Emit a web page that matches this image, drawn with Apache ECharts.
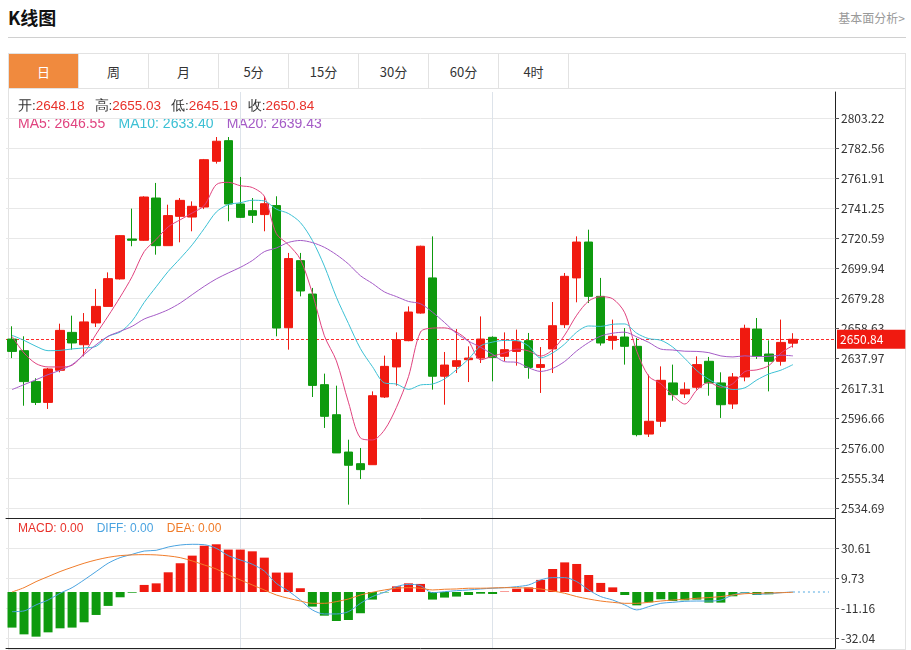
<!DOCTYPE html>
<html><head><meta charset="utf-8">
<script src="https://cdn.jsdelivr.net/npm/echarts@6/dist/echarts.min.js"></script>
<style>
html,body{margin:0;padding:0;background:#fff;font-family:"Microsoft YaHei","Noto Sans CJK SC",sans-serif;}
#hdr{position:absolute;left:8px;top:4px;font-size:18px;font-weight:bold;color:#111;}
#lnk{position:absolute;right:6px;top:9px;font-size:12px;color:#999;}
#hr{position:absolute;left:8px;top:37px;width:898px;height:1px;background:#d0d0d0;}
#tabs{position:absolute;left:8px;top:53px;width:898px;height:35px;border:1px solid #e2e2e2;border-bottom:none;box-sizing:border-box;display:flex;}
.tab{width:70px;height:35px;line-height:35px;text-align:center;font-size:13px;color:#333;border-right:1px solid #e2e2e2;box-sizing:border-box;}
.tab.on{background:#f08a3e;color:#fff;}
#frame{position:absolute;left:8px;top:88px;width:898px;height:562px;border:1px solid #e2e2e2;box-sizing:border-box;}
#c{position:absolute;left:0;top:0;width:911px;height:650px;}
</style></head><body>
<div id="hdr">K线图</div><div id="lnk">基本面分析&gt;</div><div id="hr"></div>
<div id="tabs"></div><div id="frame"></div>
<div id="c"></div>
<script>
const tabs=["日","周","月","5分","15分","30分","60分","4时"];
const openV=[2651.0,2643.0,2621.7,2607.4,2629.5,2655.6,2647.1,2662.1,2673.5,2692.4,2719.9,2719.0,2748.1,2715.3,2735.5,2735.0,2741.9,2773.4,2787.6,2744.0,2739.4,2736.7,2742.9,2658.8,2705.0,2682.0,2619.6,2598.9,2573.2,2565.2,2564.5,2611.1,2631.8,2649.9,2668.9,2693.1,2625.4,2632.2,2636.8,2637.9,2652.2,2639.1,2642.5,2649.9,2631.5,2644.2,2660.9,2693.1,2717.8,2680.4,2650.1,2652.4,2646.0,2585.6,2594.4,2620.8,2613.2,2617.8,2635.7,2620.8,2606.3,2624.9,2657.9,2640.7,2635.7,2648.18];
const closeV=[2642.5,2621.7,2607.4,2630.4,2657.0,2648.3,2662.8,2673.5,2692.6,2722.2,2719.0,2748.8,2715.3,2736.0,2746.5,2742.4,2774.5,2787.2,2744.0,2734.8,2736.2,2744.2,2658.6,2706.4,2684.1,2619.1,2597.8,2572.6,2564.1,2561.1,2612.0,2632.2,2650.6,2669.6,2714.9,2625.4,2633.1,2636.1,2637.9,2651.0,2638.4,2643.7,2649.4,2631.5,2633.4,2660.2,2694.2,2717.8,2680.4,2648.3,2652.9,2646.0,2585.2,2594.4,2622.6,2612.7,2616.4,2633.4,2620.8,2605.8,2624.9,2658.4,2639.1,2635.7,2648.7,2650.84];
const lowV=[2637.9,2605.1,2605.6,2602.9,2628.1,2643.7,2639.1,2659.3,2673.5,2692.0,2714.9,2718.7,2709.1,2715.3,2717.6,2725.2,2740.5,2771.8,2732.1,2734.4,2730.9,2725.2,2652.9,2643.7,2680.4,2611.1,2589.8,2572.6,2537.0,2554.6,2564.5,2610.4,2618.9,2649.5,2668.5,2616.2,2605.8,2627.6,2621.4,2634.5,2621.9,2635.7,2632.7,2623.7,2613.9,2627.6,2658.6,2676.3,2675.8,2646.5,2643.7,2633.4,2584.0,2583.6,2590.5,2608.6,2610.4,2616.2,2612.0,2596.7,2602.9,2621.9,2637.3,2615.0,2632.7,2645.19];
const highV=[2659.8,2652.9,2624.0,2631.1,2661.6,2667.1,2668.9,2685.5,2696.9,2722.6,2740.8,2749.3,2758.5,2743.5,2748.1,2745.8,2775.0,2790.1,2790.1,2762.6,2748.1,2749.3,2749.3,2710.3,2710.3,2686.2,2627.2,2618.9,2581.7,2576.0,2615.0,2639.6,2655.6,2673.5,2715.3,2721.7,2642.1,2657.9,2646.0,2666.6,2652.9,2655.6,2657.5,2655.2,2645.5,2676.5,2696.5,2721.7,2726.3,2693.1,2664.4,2658.6,2651.7,2626.5,2632.2,2633.4,2621.2,2639.1,2638.7,2628.1,2627.6,2660.9,2665.5,2650.1,2664.4,2655.03];
// MA values before a full window is available
const ma5Lead=[2652.9,2641.4,2634.1,2631.8];
const ma10Lead=[2653.6,2650.1,2646.0,2643.0,2643.2,2644.2,2644.9,2646.0,2652.9];
const ma20Lead=[2616.2,2619.6,2623.0,2626.5,2629.5,2633.4,2640.3,2647.1,2652.9,2656.3,2659.8,2664.8,2667.8,2671.2,2675.8,2681.6,2687.3,2692.4,2696.5];
const macdV=[-24.8,-29.5,-31.1,-28.1,-25.3,-24.8,-21.1,-16.0,-9.7,-3.7,-0.5,4.9,6.0,13.7,20.0,25.3,32.2,33.2,29.5,29.5,28.3,23.9,13.5,13.5,2.6,-10.2,-16.5,-20.2,-19.5,-14.8,-5.3,-0.3,3.9,6.0,5.6,-5.3,-3.9,-3.2,-2.1,-1.2,-1.4,0.3,2.3,3.2,8.4,16.0,20.6,19.5,11.8,6.3,3.2,-2.1,-9.3,-7.2,-5.1,-6.3,-5.8,-5.3,-7.4,-7.4,-3.0,-0.5,-2.1,-1.6,-0.3,0];
const diffV=[-13.7,-13.2,-9.0,-5.6,-0.9,3.0,8.4,14.2,20.0,23.9,26.2,28.5,29.0,31.3,32.7,33.2,32.9,30.4,25.3,22.3,19.3,14.6,6.0,0.7,-5.6,-12.5,-15.3,-15.3,-13.7,-7.9,-3.2,-0.2,3.7,5.3,4.4,-0.5,0.2,0.9,1.4,2.1,2.6,3.0,3.7,4.9,8.4,10.0,10.0,7.2,1.4,-3.2,-5.6,-9.0,-12.5,-10.2,-7.9,-7.2,-6.5,-6.3,-6.3,-5.6,-2.1,-0.5,-1.6,-1.2,-0.5,0];
const deaV=[0,3.0,7.2,10.7,14.2,17.2,20.0,22.3,24.1,25.3,25.8,26.0,25.8,25.1,23.9,21.6,18.8,16.0,11.8,8.4,4.9,1.4,-2.1,-4.4,-6.3,-7.9,-7.9,-6.7,-4.9,-2.1,-0.2,1.4,2.6,3.0,2.6,1.4,1.9,2.1,2.6,2.6,2.8,3.0,3.0,2.6,2.1,0.7,-0.9,-3.2,-4.9,-6.3,-7.2,-7.9,-7.9,-7.2,-6.3,-5.6,-5.1,-4.4,-3.9,-3.2,-2.1,-1.2,-0.9,-0.7,-0.5,-0.2];
const priceTicks=[2803.22,2782.56,2761.91,2741.25,2720.59,2699.94,2679.28,2658.63,2637.97,2617.31,2596.66,2576.00,2555.34,2534.69];
const macdTicks=[30.61,9.73,-11.16,-32.04];
const slots=69;
const categories=Array.from({length:slots},(_,i)=>String(i+1));

document.getElementById('tabs').innerHTML=tabs.map((t,i)=>`<div class="tab${i===0?' on':''}">${t}</div>`).join('');

const RED='#f01a10',GREEN='#0e9a0e';
function ma(n,lead){return closeV.map((c,i)=>{if(i<n-1)return lead[i];let s=0;for(let k=i-n+1;k<=i;k++)s+=closeV[k];return +(s/n).toFixed(2);});}
const ma5=ma(5,ma5Lead),ma10=ma(10,ma10Lead),ma20=ma(20,ma20Lead);
const kdata=openV.map((o,i)=>[o,closeV[i],lowV[i],highV[i]]);
const last=kdata.length-1;
const gridLine={color:'#e8e8e8',type:'solid',width:1};
const hLines=(ticks)=>ticks.map(v=>({yAxis:v}));
const chart=echarts.init(document.getElementById('c'));
const f=(v)=>v.toFixed(2);
chart.setOption({
  animation:false,
  textStyle:{fontFamily:'"Microsoft YaHei","Noto Sans CJK SC",sans-serif'},
  grid:[{left:6,right:76,top:92,height:426},{left:6,right:76,top:519,height:129}],
  xAxis:[
    {type:'category',data:categories,gridIndex:0,boundaryGap:true,axisLine:{show:true,lineStyle:{color:'#222'}},axisTick:{show:false},axisLabel:{show:false},splitLine:{show:false}},
    {type:'category',data:categories,gridIndex:1,boundaryGap:true,axisLine:{show:true,onZero:false,lineStyle:{color:'#222'}},axisTick:{show:false},axisLabel:{show:false},splitLine:{show:false}}
  ],
  yAxis:[
    {type:'value',gridIndex:0,position:'right',min:2527.8,max:2821.1,axisLine:{show:true,lineStyle:{color:'#222'}},
     axisTick:{show:true,length:4,customValues:priceTicks,lineStyle:{color:'#555'}},
     axisLabel:{customValues:priceTicks,formatter:v=>f(v),color:'#333',fontSize:12,margin:6},splitLine:{show:false}},
    {type:'value',gridIndex:1,position:'right',min:-39.0,max:50.8,axisLine:{show:true,lineStyle:{color:'#222'}},
     axisTick:{show:true,length:4,customValues:macdTicks,lineStyle:{color:'#555'}},
     axisLabel:{customValues:macdTicks,formatter:v=>f(v),color:'#333',fontSize:12,margin:6},splitLine:{show:false}}
  ],
  graphic:[
    {type:'text',left:18,top:99,style:{rich:{k:{fill:'#333',fontSize:13.5},v:{fill:'#e8312a',fontSize:13.5}},
      text:`{k|开:}{v|${f(openV[last])}}   {k|高:}{v|${f(highV[last])}}   {k|低:}{v|${f(lowV[last])}}   {k|收:}{v|${f(closeV[last])}}`}},
    {type:'text',left:18,top:117,style:{rich:{a:{fill:'#e0437f',fontSize:14},b:{fill:'#3cc0d4',fontSize:14},c:{fill:'#a45bc6',fontSize:14}},
      text:`{a|MA5: ${f(ma5[last])}}    {b|MA10: ${f(ma10[last])}}    {c|MA20: ${f(ma20[last])}}`}},
    {type:'text',left:18,top:523,style:{rich:{a:{fill:'#e8312a',fontSize:12},b:{fill:'#4aa3e0',fontSize:12},c:{fill:'#f07c2a',fontSize:12}},
      text:`{a|MACD: 0.00}    {b|DIFF: 0.00}    {c|DEA: 0.00}`}}
  ],
  series:[
    {type:'candlestick',xAxisIndex:0,yAxisIndex:0,data:kdata,barWidth:9,
     itemStyle:{color:RED,color0:GREEN,borderColor:RED,borderColor0:GREEN,borderWidth:1},
     markLine:{silent:true,symbol:'none',animation:false,z:1,
       data:[...hLines(priceTicks).map(d=>({...d,lineStyle:gridLine,label:{show:false}})),
             {xAxis:19,lineStyle:{color:'#dde3ea',type:'solid',width:1},label:{show:false}},
             {xAxis:40,lineStyle:{color:'#dde3ea',type:'solid',width:1},label:{show:false}},
             {yAxis:closeV[last],lineStyle:{color:'#ff2a2a',type:[3,2],width:1,opacity:1},
              label:{show:true,position:'end',formatter:f(closeV[last]),color:'#fff',backgroundColor:'#f01a10',padding:[4,22,3,3],fontSize:12,distance:2}}]}},
    {type:'line',xAxisIndex:0,yAxisIndex:0,data:ma5,symbol:'none',smooth:0.3,lineStyle:{color:'#e0437f',width:1},z:5},
    {type:'line',xAxisIndex:0,yAxisIndex:0,data:ma10,symbol:'none',smooth:0.3,lineStyle:{color:'#3cc0d4',width:1},z:5},
    {type:'line',xAxisIndex:0,yAxisIndex:0,data:ma20,symbol:'none',smooth:0.3,lineStyle:{color:'#a45bc6',width:1},z:5},
    {type:'bar',xAxisIndex:1,yAxisIndex:1,data:macdV.map(v=>({value:v,itemStyle:{color:v>=0?RED:GREEN}})),barWidth:9,
     markLine:{silent:true,symbol:'none',z:1,
       data:[...hLines(macdTicks).map(d=>({...d,lineStyle:gridLine,label:{show:false}})),
             {xAxis:19,lineStyle:{color:'#dde3ea',type:'solid',width:1},label:{show:false}},
             {xAxis:40,lineStyle:{color:'#dde3ea',type:'solid',width:1},label:{show:false}},
             [{coord:[65,0]},{coord:[68,0],lineStyle:{color:'#a8d4f0',type:[2,3],width:2},label:{show:false}}]]}},
    {type:'line',xAxisIndex:1,yAxisIndex:1,data:diffV,symbol:'none',smooth:0.3,lineStyle:{color:'#4aa3e0',width:1},z:5},
    {type:'line',xAxisIndex:1,yAxisIndex:1,data:deaV,symbol:'none',smooth:0.3,lineStyle:{color:'#f07c2a',width:1},z:5}
  ]
});
</script></body></html>
